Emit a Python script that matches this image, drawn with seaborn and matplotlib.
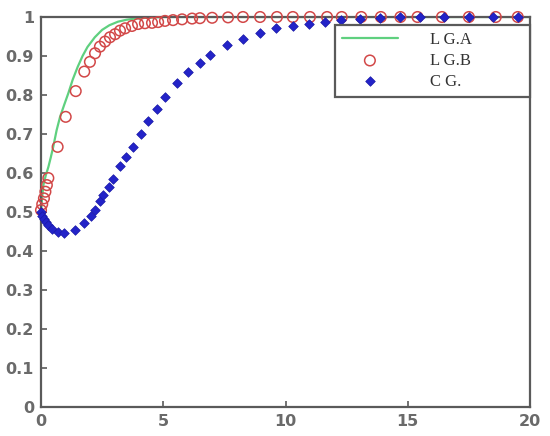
import matplotlib
matplotlib.use("Agg")
import matplotlib.pyplot as plt
import seaborn as sns
import pandas as pd

# Series A (line)
lga_x = [0, 0.05, 0.1, 0.2, 0.3, 0.4, 0.5, 0.64, 0.78, 0.95, 1.12, 1.3, 1.5, 1.7,
         1.9, 2.2, 2.5, 2.8, 3.15, 3.5, 3.85, 4.3, 5, 6, 20]
lga_y = [0.5, 0.54, 0.57, 0.595, 0.615, 0.64, 0.667, 0.71, 0.744, 0.775, 0.805, 0.84,
         0.872, 0.9, 0.923, 0.948, 0.967, 0.979, 0.988, 0.993, 0.996, 0.998, 1, 1, 1]

# Series B (circles)
lgb_x = [0, 0.05, 0.12, 0.18, 0.24, 0.3, 0.68, 1.01, 1.42, 1.77, 2.0, 2.21, 2.41, 2.62,
         2.82, 3.03, 3.23, 3.44, 3.72, 3.97, 4.25, 4.54, 4.79, 5.07, 5.4, 5.77, 6.18,
         6.5, 7.0, 7.65, 8.26, 8.96, 9.65, 10.3, 11.0, 11.7, 12.3, 13.1, 13.9, 14.7,
         15.4, 16.4, 17.5, 18.6, 19.5]
lgb_y = [0.505, 0.52, 0.535, 0.552, 0.569, 0.587, 0.667, 0.744, 0.81, 0.86, 0.885, 0.907,
         0.924, 0.937, 0.948, 0.956, 0.965, 0.971, 0.977, 0.982, 0.984, 0.985, 0.987,
         0.99, 0.992, 0.994, 0.996, 0.997, 0.998, 0.999, 1, 1, 1, 1, 1, 1, 1, 1, 1, 1,
         1, 1, 1, 1, 1]

# Series C (stars)
cg_x = [0, 0.05, 0.12, 0.2, 0.3, 0.45, 0.7, 0.94, 1.39, 1.76, 2.03, 2.21, 2.41, 2.55,
        2.79, 2.96, 3.23, 3.48, 3.75, 4.08, 4.39, 4.73, 5.07, 5.56, 6.01, 6.5, 6.91,
        7.61, 8.26, 8.96, 9.61, 10.3, 10.96, 11.6, 12.27, 13.05, 13.87, 14.7, 15.5,
        16.5, 17.5, 18.5, 19.5]
cg_y = [0.5, 0.49, 0.483, 0.475, 0.466, 0.456, 0.448, 0.445, 0.455, 0.471, 0.49, 0.505,
        0.528, 0.544, 0.563, 0.584, 0.618, 0.64, 0.667, 0.70, 0.734, 0.765, 0.795, 0.831,
        0.859, 0.882, 0.903, 0.928, 0.944, 0.959, 0.972, 0.978, 0.982, 0.988, 0.992,
        0.996, 0.998, 0.999, 1, 1, 1, 1, 1]

labels = ["L G.A", "L G.B", "C G."]
x_ticks = [0, 5, 10, 15, 20]
y_ticks = [0, 0.1, 0.2, 0.3, 0.4, 0.5, 0.6, 0.7, 0.8, 0.9, 1]
y_tick_labels = ["0", "0.1", "0.2", "0.3", "0.4", "0.5", "0.6", "0.7", "0.8", "0.9", "1"]

sns.set_style("white")

fig = plt.figure(figsize=(5.5, 4.36), dpi=100)
ax = fig.add_axes([41/550, 29/436, 489/550, 390/436])

dfa = pd.DataFrame({"x": lga_x, "y": lga_y})
dfb = pd.DataFrame({"x": lgb_x, "y": lgb_y})
dfc = pd.DataFrame({"x": cg_x, "y": cg_y})

sns.lineplot(data=dfa, x="x", y="y", ax=ax, color="#5fd07f", linewidth=1.6,
             sort=False, estimator=None, label=labels[0], zorder=2)
sns.scatterplot(data=dfb, x="x", y="y", ax=ax, marker="o", s=58,
                facecolors="none", edgecolor="#d24848", linewidth=1.1,
                label=labels[1], zorder=3, clip_on=False)
sns.scatterplot(data=dfc, x="x", y="y", ax=ax, marker="D", s=24,
                color="#2323c8", edgecolor="#1a1aa8", linewidth=0.5,
                label=labels[2], zorder=4, clip_on=False)

ax.set_xlim(0, 20)
ax.set_ylim(0, 1)
ax.set_xticks(x_ticks)
ax.set_xticklabels([str(t) for t in x_ticks])
ax.set_yticks(y_ticks)
ax.set_yticklabels(y_tick_labels)
ax.set_xlabel("")
ax.set_ylabel("")

for sp in ax.spines.values():
    sp.set_visible(True)
    sp.set_color("#5a5a5a")
    sp.set_linewidth(1.6)
    sp.set_zorder(2.5)

ax.tick_params(direction="in", length=4, width=1.2, color="#5a5a5a",
               labelsize=11.5, labelcolor="#6a6a6a", pad=5,
               bottom=True, left=True, top=False, right=False)
for lab in ax.get_xticklabels() + ax.get_yticklabels():
    lab.set_fontweight("bold")
    lab.set_family("DejaVu Sans")

handles, labs = ax.get_legend_handles_labels()
leg = ax.legend(handles, labs, loc="upper left",
                bbox_to_anchor=(0.601, 0.8, 0.399, 0.179), mode="expand",
                borderaxespad=0, fancybox=False, framealpha=1,
                edgecolor="#5a5a5a", handlelength=3.4, handletextpad=1.9,
                labelspacing=0.3, borderpad=0.4,
                prop={"family": "Liberation Serif", "size": 12})
leg.get_frame().set_linewidth(1.6)
for t in leg.get_texts():
    t.set_color("#333333")

fig.savefig("out.png", dpi=100, facecolor="white")
